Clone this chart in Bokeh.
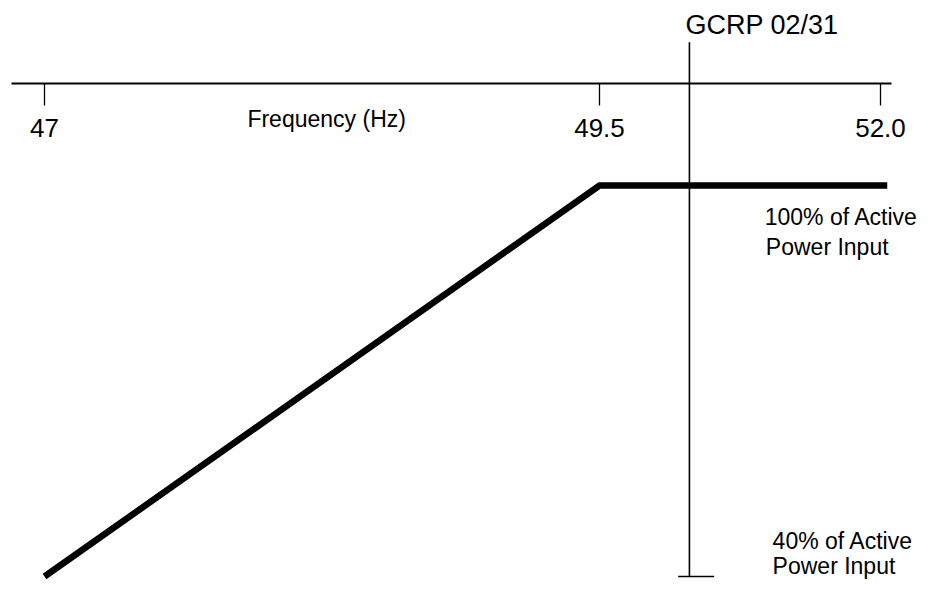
import numpy as np
from bokeh.plotting import figure
from bokeh.models import LinearAxis, FixedTicker, ColumnDataSource
from bokeh.core.properties import value
from bokeh.embed import file_html
from bokeh.resources import INLINE

# ---- data (frequency in Hz, power in % of active power input) ----
tick_freqs = [47.0, 49.5, 52.0]
tick_labels = ["47", "49.5", "52.0"]

curve_freq = [47.0, 49.5, 52.06]
curve_power = [40, 100, 100]

gcrp_freq = 50.3
gcrp_power_span = [40, 122]
gcrp_bar_freq = [50.2, 50.52]
gcrp_bar_power = 40

axis_freq_bounds = [46.85, 52.1]
axis_power_level = 115.65

label_texts = ["Frequency (Hz)", "100% of Active", "Power Input", "40% of Active", "Power Input"]
label_freq = [47.914, 50.97, 50.98, 51.04, 51.04]
label_power = [110.2, 95.17, 90.56, 45.45, 41.61]

title_text = "GCRP 02/31"
title_freq = 50.265
title_power = 124.63

# the sketch is not to scale: the 49.5-52 Hz span is drawn compressed
KNEE = 49.5
COMPRESS = 281.0 / 555.0


def sx(f):
    f = np.asarray(f, dtype=float)
    return np.where(f <= KNEE, f, KNEE + (f - KNEE) * COMPRESS)


FONT = "Liberation Sans"

p = figure(width=917, height=582, output_backend="svg", toolbar_location=None,
           x_range=(46.8018, 50.9324), y_range=(39.08, 128.39),
           x_axis_location=None, y_axis_location=None, min_border=0)
p.grid.visible = False
p.outline_line_color = None
p.background_fill_color = "white"

tick_pos = [float(v) for v in sx(tick_freqs)]
axis = LinearAxis(fixed_location=axis_power_level,
                  bounds=tuple(float(v) for v in sx(axis_freq_bounds)),
                  ticker=FixedTicker(ticks=tick_pos, minor_ticks=[]),
                  major_label_overrides={t: l for t, l in zip(tick_pos, tick_labels)},
                  axis_line_color="black", axis_line_width=2,
                  major_tick_line_color="black", major_tick_line_width=1.3,
                  major_tick_out=22, major_tick_in=0,
                  minor_tick_out=0, minor_tick_in=0,
                  major_label_standoff=13,
                  major_label_text_font=FONT,
                  major_label_text_font_size="26px",
                  major_label_text_color="black")
p.add_layout(axis, "below")

# response curve
p.line(sx(curve_freq), curve_power, line_color="black", line_width=6.5,
       line_join="miter", line_cap="butt")

# GCRP reference line with foot
p.segment(x0=[float(sx(gcrp_freq))], y0=[gcrp_power_span[0]],
          x1=[float(sx(gcrp_freq))], y1=[gcrp_power_span[1]],
          line_color="black", line_width=1.6)
p.segment(x0=[float(sx(gcrp_bar_freq[0]))], y0=[gcrp_bar_power],
          x1=[float(sx(gcrp_bar_freq[1]))], y1=[gcrp_bar_power],
          line_color="black", line_width=1.6)

src = ColumnDataSource(dict(x=sx(label_freq), y=label_power, text=label_texts))
p.text(x="x", y="y", text="text", source=src, text_font=value(FONT),
       text_font_size="23px", text_color="black", text_align="left",
       text_baseline="alphabetic")

p.text(x=[float(sx(title_freq))], y=[title_power], text=[title_text],
       text_font=value(FONT), text_font_size="27px", text_color="black",
       text_align="left", text_baseline="alphabetic")

open("out.html", "w").write(file_html(p, INLINE))
